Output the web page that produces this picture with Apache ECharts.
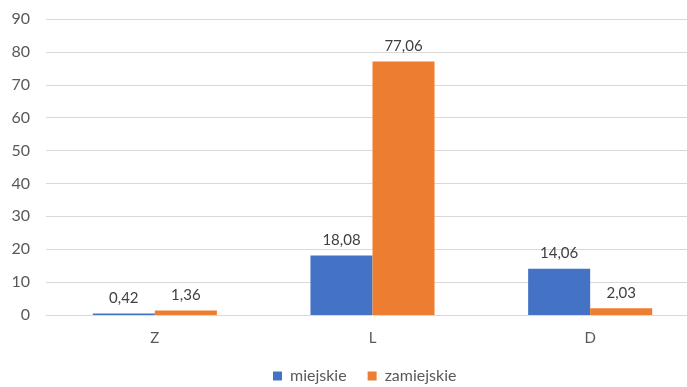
<!DOCTYPE html>
<html><head><meta charset="utf-8">
<script src="https://cdn.jsdelivr.net/npm/echarts@6/dist/echarts.min.js"></script>
<style>html,body{margin:0;padding:0;background:#fff;overflow:hidden;width:687px;height:387px}#c{width:726px;height:387px}</style>
</head><body><div id="c"></div>
<script>
const categories = ['Z', 'L', 'D'];
const miejskie = [0.42, 18.08, 14.06];
const zamiejskie = [1.36, 77.06, 2.03];
const seriesNames = ['miejskie', 'zamiejskie'];
const yTicks = {min: 0, max: 90, interval: 10};

const font = 'Lato, "Open Sans", sans-serif';
const fmt = p => p.value.toFixed(2).replace('.', ',');
const chart = echarts.init(document.getElementById('c'));
chart.setOption({
  animation: false,
  textStyle: {fontFamily: font},
  grid: {left: 46, right: 27, top: 19, bottom: 72, containLabel: false},
  legend: {
    bottom: 3, left: 273, padding: 0, itemWidth: 9, itemHeight: 9, itemGap: 21,
    icon: 'rect',
    textStyle: {fontSize: 16, color: '#595959', fontFamily: font, padding: [0, 0, 0, 3]}
  },
  xAxis: {
    type: 'category', data: categories,
    axisLine: {lineStyle: {color: '#d9d9d9'}},
    axisTick: {show: false},
    axisLabel: {fontSize: 15, color: '#595959', margin: 16, fontFamily: font}
  },
  yAxis: {
    type: 'value', min: yTicks.min, max: yTicks.max, interval: yTicks.interval,
    axisLine: {show: false}, axisTick: {show: false},
    splitLine: {lineStyle: {color: '#d9d9d9'}},
    axisLabel: {fontSize: 16, color: '#595959', margin: 16, fontFamily: font}
  },
  series: [
    {name: seriesNames[0], type: 'bar', data: miejskie, barGap: '0%', barCategoryGap: '43%',
     itemStyle: {color: '#4472C4'},
     label: {show: true, position: 'top', distance: 8, fontSize: 15, color: '#404040', formatter: fmt, fontFamily: font}},
    {name: seriesNames[1], type: 'bar', data: zamiejskie, barGap: '0%', barCategoryGap: '43%',
     itemStyle: {color: '#ED7D31'},
     label: {show: true, position: 'top', distance: 8, fontSize: 15, color: '#404040', formatter: fmt, fontFamily: font}}
  ]
});
</script></body></html>
